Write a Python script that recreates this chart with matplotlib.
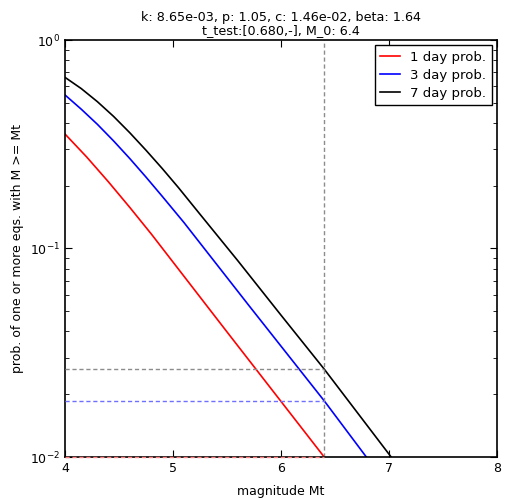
import numpy as np
import matplotlib
matplotlib.use('Agg')
import matplotlib.pyplot as plt

# magnitudes and probabilities
m_1day = [4.0, 4.2, 4.4, 4.6, 4.8, 5.5, 6.4]
p_1day = [0.354, 0.275, 0.2094, 0.1574, 0.1172, 0.0398, 0.0100]

m_3day = [4.0, 4.15, 4.3, 4.45, 4.6, 4.75, 4.9, 5.1, 5.7, 6.4, 6.79]
p_3day = [0.545, 0.466, 0.394, 0.328, 0.270, 0.220, 0.178, 0.1335, 0.0535, 0.0186, 0.0100]

m_7day = [4.0, 4.15, 4.3, 4.45, 4.6, 4.75, 4.9, 5.05, 5.25, 5.6, 6.0, 6.4, 7.02]
p_7day = [0.662, 0.585, 0.506, 0.430, 0.359, 0.296, 0.242, 0.196, 0.146, 0.0874, 0.0479, 0.0264, 0.0100]

M_0 = 6.4
p_at_M0 = [0.0100, 0.0186, 0.0264]   # 1, 3, 7 day
title = 'k: 8.65e-03, p: 1.05, c: 1.46e-02, beta: 1.64\nt_test:[0.680,-], M_0: 6.4'

plt.rcParams['font.size'] = 9

fig = plt.figure(figsize=(5.09, 4.98), dpi=100)
ax = fig.add_axes([65/509, 1 - 457/498, 432/509, 417/498])

ax.plot(m_1day, p_1day, color='red', lw=1.2, label='1 day prob.')
ax.plot(m_3day, p_3day, color='blue', lw=1.2, label='3 day prob.')
ax.plot(m_7day, p_7day, color='black', lw=1.2, label='7 day prob.')

# dashed guides at M_0
ax.axvline(M_0, color='0.55', ls=(0, (3, 2)), lw=1)
for p, c in zip(p_at_M0, ['#ff8080', '#7070ff', '0.55']):
    ax.plot([4, M_0], [p, p], color=c, ls=(0, (3, 2)), lw=1, clip_on=False, zorder=3)

ax.set_yscale('log')
ax.set_xlim(4, 8)
ax.set_ylim(1e-2, 1)
ax.set_xticks([4, 5, 6, 7, 8])
ax.tick_params(which='both', direction='in', top=True, right=True)
ax.tick_params(which='major', length=5)
ax.tick_params(which='minor', length=3)
for s in ax.spines.values():
    s.set_linewidth(1.2)

ax.set_xlabel('magnitude Mt', labelpad=7)
ax.set_ylabel('prob. of one or more eqs. with M >= Mt')
ax.set_title(title, fontsize=9.2, linespacing=1.0, pad=4)

leg = ax.legend(loc='upper right', fancybox=False, framealpha=1, edgecolor='black',
                fontsize=9.5, handlelength=1.5, labelspacing=0.4, borderaxespad=0.4)
leg.get_frame().set_linewidth(1.0)

fig.savefig('out.png', dpi=100)
